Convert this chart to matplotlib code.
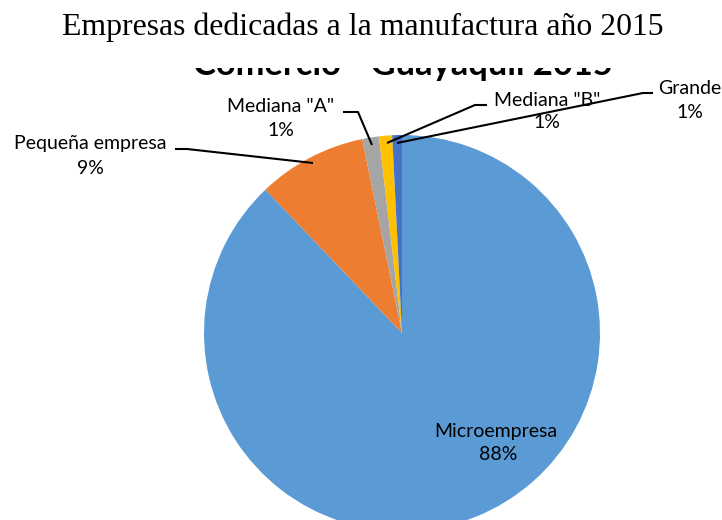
import matplotlib
matplotlib.use("Agg")
import matplotlib.pyplot as plt
from matplotlib.transforms import Bbox, TransformedBbox

# ---- data ----
categories = ["Microempresa", "Pequeña empresa", 'Mediana "A"', 'Mediana "B"', "Grande"]
values = [87.9, 8.9, 1.36, 1.07, 0.79]
pct_labels = ["88%", "9%", "1%", "1%", "1%"]
colors = ["#5B9BD5", "#ED7D31", "#A5A5A5", "#FFC000", "#4472C4"]
title = "Empresas dedicadas a la manufactura año 2015"
hidden_title = "Comercio - Guayaquil 2015"

W, H = 722, 520
fig = plt.figure(figsize=(W / 100, H / 100), dpi=100)
ax = fig.add_axes([0, 0, 1, 1])

def Y(y):
    return H - y

ax.pie(values, colors=colors, startangle=90, counterclock=False,
       center=(402, Y(333)), radius=198,
       wedgeprops=dict(linewidth=0))
ax.set_xlim(0, W)
ax.set_ylim(0, H)
ax.set_aspect("equal")
ax.set_axis_off()

lab_font = dict(family=["Lato", "DejaVu Sans"], fontsize=14, color="black")

# hidden (partly covered) original chart title: only its lower strip shows
t_hidden = ax.text(403, Y(75), hidden_title, ha="center", va="baseline",
                   family=["Lato", "DejaVu Sans"], fontweight="bold",
                   fontsize=24.8, zorder=1)
clip = TransformedBbox(Bbox([[0, 0], [W, Y(68)]]), ax.transData)
t_hidden.set_clip_box(clip)
t_hidden.set_clip_path(None)
t_hidden.set_clip_on(True)

# main title
ax.text(363, Y(27), title, ha="center", va="center",
        family=["Liberation Serif", "DejaVu Serif"], fontsize=22.9, zorder=3)

# leader lines
leaders = {
    "Grande": [(397, 143), (643, 93), (653, 93)],
    'Mediana "B"': [(387, 143), (475, 105), (487, 105)],
    'Mediana "A"': [(372, 145), (358, 112), (343, 112)],
    "Pequeña empresa": [(313, 163), (187, 149), (175, 149)],
}
for pts in leaders.values():
    xs = [p[0] for p in pts]
    ys = [Y(p[1]) for p in pts]
    ax.plot(xs, ys, color="black", lw=1.5, solid_capstyle="butt", zorder=4)

# labels: (name position, pct position)
label_pos = {
    "Microempresa": ((496, 431), (498, 454)),
    "Pequeña empresa": ((90, 144), (90, 168)),
    'Mediana "A"': ((281, 107), (281, 131)),
    'Mediana "B"': ((547, 100), (547, 123)),
    "Grande": ((690, 88), (690, 112)),
}
for cat, pct in zip(categories, pct_labels):
    (nx, ny), (px, pyy) = label_pos[cat]
    ax.text(nx, Y(ny), cat, ha="center", va="center", zorder=5, **lab_font)
    ax.text(px, Y(pyy), pct, ha="center", va="center", zorder=5, **lab_font)

fig.savefig("out.png", dpi=100)
